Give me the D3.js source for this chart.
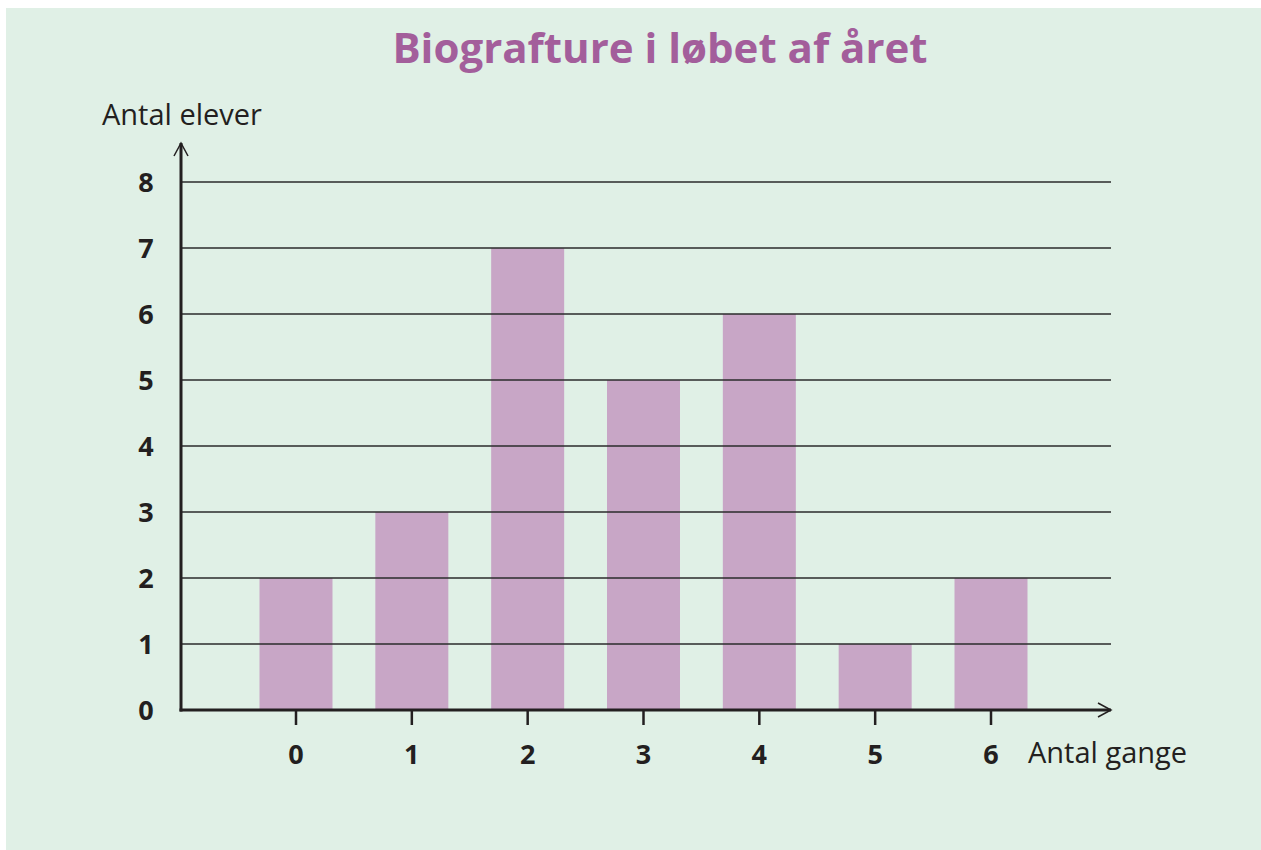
<!DOCTYPE html>
<html>
<head>
<meta charset="utf-8">
<script src="https://d3js.org/d3.v7.min.js"></script>
<style>
  body { margin: 0; background: #ffffff; }
  text { font-family: "Open Sans", sans-serif; }
</style>
</head>
<body>
<script>
// data
var categories = [0, 1, 2, 3, 4, 5, 6];
var counts = [2, 3, 7, 5, 6, 1, 2];
var yTicks = [0, 1, 2, 3, 4, 5, 6, 7, 8];

var width = 1261, height = 850;
var svg = d3.select("body").append("svg")
    .attr("width", width)
    .attr("height", height);

// green panel
svg.append("rect")
    .attr("x", 6).attr("y", 8)
    .attr("width", width - 6).attr("height", height - 8)
    .attr("fill", "#e0f0e6");

var x = d3.scaleLinear().domain([0, 6]).range([296, 991]);
var y = d3.scaleLinear().domain([0, 8]).range([710, 182]);
var barW = 73;
var axisX = 181, axisEnd = 1111;

// bars
svg.selectAll(".bar").data(counts).enter()
    .append("rect")
    .attr("x", (d, i) => x(categories[i]) - barW / 2)
    .attr("y", d => y(d))
    .attr("width", barW)
    .attr("height", d => y(0) - y(d))
    .attr("fill", "#c8a6c6");

// grid lines
svg.selectAll(".grid").data(yTicks.filter(d => d > 0)).enter()
    .append("line")
    .attr("x1", axisX).attr("x2", axisEnd)
    .attr("y1", d => y(d)).attr("y2", d => y(d))
    .attr("stroke", "#2b2b2b").attr("stroke-width", 1.3);

// axes
svg.append("line")
    .attr("x1", axisX).attr("x2", axisX)
    .attr("y1", y(0) + 1.5).attr("y2", 143)
    .attr("stroke", "#231f20").attr("stroke-width", 3);
svg.append("path")
    .attr("d", "M" + (axisX - 7) + ",156 L" + axisX + ",143 L" + (axisX + 7) + ",156")
    .attr("fill", "none").attr("stroke", "#231f20").attr("stroke-width", 1.5);

svg.append("line")
    .attr("x1", axisX - 1.5).attr("x2", axisEnd)
    .attr("y1", y(0)).attr("y2", y(0))
    .attr("stroke", "#231f20").attr("stroke-width", 3);
svg.append("path")
    .attr("d", "M" + (axisEnd - 13) + "," + (y(0) - 7) + " L" + axisEnd + "," + y(0) + " L" + (axisEnd - 13) + "," + (y(0) + 7))
    .attr("fill", "none").attr("stroke", "#231f20").attr("stroke-width", 1.5);

// x ticks
svg.selectAll(".xt").data(categories).enter()
    .append("line")
    .attr("x1", d => x(d)).attr("x2", d => x(d))
    .attr("y1", y(0)).attr("y2", y(0) + 15)
    .attr("stroke", "#231f20").attr("stroke-width", 2.5);

svg.selectAll(".xl").data(categories).enter()
    .append("text")
    .attr("x", d => x(d)).attr("y", 764)
    .attr("text-anchor", "middle")
    .attr("font-size", 27).attr("font-weight", "bold")
    .attr("fill", "#231f20")
    .text(d => d);

svg.selectAll(".yl").data(yTicks).enter()
    .append("text")
    .attr("x", 146).attr("y", d => y(d) + 10)
    .attr("text-anchor", "middle")
    .attr("font-size", 27).attr("font-weight", "bold")
    .attr("fill", "#231f20")
    .text(d => d);

// titles
svg.append("text")
    .attr("x", 660).attr("y", 63)
    .attr("text-anchor", "middle")
    .attr("font-size", 42).attr("font-weight", "bold")
    .attr("fill", "#a35e9b")
    .text("Biografture i løbet af året");

svg.append("text")
    .attr("x", 102).attr("y", 125)
    .attr("font-size", 29)
    .attr("fill", "#231f20")
    .text("Antal elever");

svg.append("text")
    .attr("x", 1028).attr("y", 763)
    .attr("font-size", 29)
    .attr("fill", "#231f20")
    .text("Antal gange");
</script>
</body>
</html>
